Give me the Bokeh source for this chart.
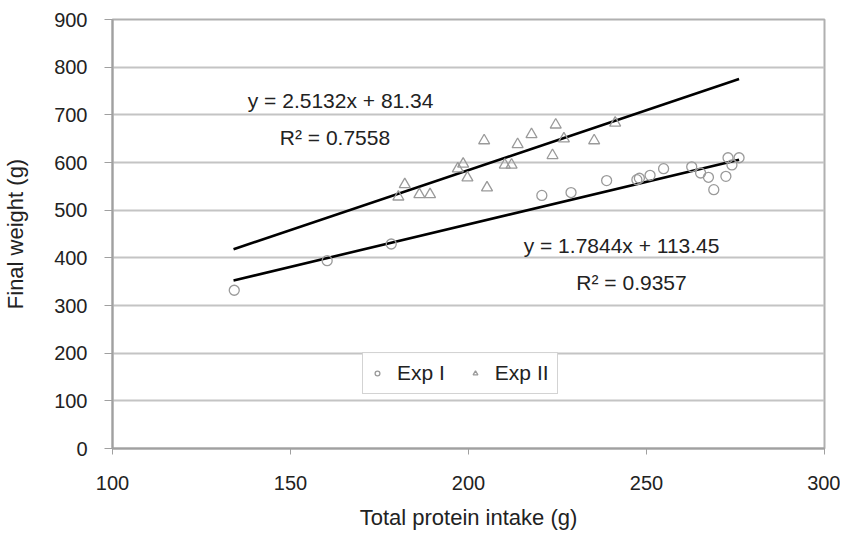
from bokeh.plotting import figure
from bokeh.models import Range1d, FixedTicker, Legend, LegendItem
from bokeh.core.properties import value
from bokeh.embed import file_html
from bokeh.resources import INLINE

# ---- data ----
exp1_x = [134.2, 160.3, 178.3, 220.6, 228.8, 238.8, 247.3, 248.0, 251.0, 254.8,
          262.7, 265.2, 267.4, 268.9, 272.3, 272.9, 274.0, 276.0]
exp1_y = [332, 394, 429, 531, 537, 562, 564, 567, 573, 587,
          591, 578, 569, 543, 571, 610, 595, 610]

exp2_x = [180.3, 182.1, 186.2, 189.2, 197.0, 198.5, 199.7, 204.4, 205.2, 210.2,
          212.1, 213.8, 217.7, 223.6, 224.5, 226.8, 235.3, 241.2]
exp2_y = [528, 554, 533, 533, 587, 597, 568, 646, 547, 595,
          595, 638, 659, 615, 679, 650, 646, 683]

fit1_slope, fit1_icept, fit1_r2 = 1.7844, 113.45, 0.9357
fit2_slope, fit2_icept, fit2_r2 = 2.5132, 81.34, 0.7558
fit_x = [134, 276]

x_ticks = [100, 150, 200, 250, 300]
y_ticks = [0, 100, 200, 300, 400, 500, 600, 700, 800, 900]

series_names = ["Exp I", "Exp II"]
x_title = "Total protein intake (g)"
y_title = "Final weight (g)"

FONT = "Liberation Sans"
TXT = "#222222"
GRID = "#c4c4c4"
MARK = "#9a9a9a"

p = figure(width=840, height=536, output_backend="svg", toolbar_location=None,
           x_range=Range1d(100, 300), y_range=Range1d(0, 900),
           min_border_left=109, min_border_right=16, min_border_top=19,
           min_border_bottom=88)
p.background_fill_color = "white"
p.border_fill_color = "white"
p.outline_line_color = "#b0b0b0"
p.outline_line_width = 2

# grid
p.xgrid.grid_line_color = None
p.ygrid.grid_line_color = GRID
p.ygrid.grid_line_width = 2
p.ygrid.ticker = FixedTicker(ticks=y_ticks)

# axes
p.xaxis.ticker = FixedTicker(ticks=x_ticks)
p.yaxis.ticker = FixedTicker(ticks=y_ticks)
for ax in (p.xaxis[0], p.yaxis[0]):
    ax.axis_line_color = "#a0a0a0"
    ax.axis_line_width = 2
    ax.major_tick_line_color = "#a0a0a0"
    ax.major_tick_line_width = 1
    ax.minor_tick_line_color = None
    ax.major_tick_in = 0
    ax.major_label_text_font = FONT
    ax.major_label_text_font_size = "20px"
    ax.major_label_text_color = TXT
    ax.axis_label_text_font = FONT
    ax.axis_label_text_font_size = "22px"
    ax.axis_label_text_font_style = "normal"
    ax.axis_label_text_color = TXT

p.xaxis.major_tick_out = 6
p.xaxis.major_label_standoff = 21
p.xaxis.axis_label = x_title
p.xaxis.axis_label_standoff = 12

p.yaxis.major_tick_out = 8
p.yaxis.major_label_standoff = 17
p.yaxis.axis_label = y_title
p.yaxis.axis_label_standoff = 23

# fit lines
fit1_y = [fit1_slope * x + fit1_icept for x in fit_x]
fit2_y = [fit2_slope * x + fit2_icept for x in fit_x]
p.line(fit_x, fit2_y, line_color="black", line_width=2.6)
p.line(fit_x, fit1_y, line_color="black", line_width=2.6)

# scatter
r1 = p.scatter(exp1_x, exp1_y, marker="circle", size=10, fill_color=None,
               line_color=MARK, line_width=1.3)
r2 = p.scatter(exp2_x, exp2_y, marker="triangle", size=11, fill_color=None,
               line_color=MARK, line_width=1.3)

# equation annotations
p.text(x=[138.0], y=[730], text=[f"y = {fit2_slope}x + {fit2_icept}"],
       text_font=value(FONT), text_font_size="21px", text_color=TXT,
       text_align="left", text_baseline="middle")
p.text(x=[147.0], y=[652], text=[f"R\u00b2 = {fit2_r2}"],
       text_font=value(FONT), text_font_size="21px", text_color=TXT,
       text_align="left", text_baseline="middle")
p.text(x=[215.5], y=[426], text=[f"y = {fit1_slope}x + {fit1_icept}"],
       text_font=value(FONT), text_font_size="21px", text_color=TXT,
       text_align="left", text_baseline="middle")
p.text(x=[230.3], y=[348], text=[f"R\u00b2 = {fit1_r2}"],
       text_font=value(FONT), text_font_size="21px", text_color=TXT,
       text_align="left", text_baseline="middle")

legend = Legend(items=[LegendItem(label=series_names[0], renderers=[r1]),
                       LegendItem(label=series_names[1], renderers=[r2])],
                location=(250, 54), orientation="horizontal")
legend.label_text_font = FONT
legend.label_text_font_size = "21px"
legend.label_text_color = TXT
legend.border_line_color = "#a8a8a8"
legend.border_line_width = 1.5
legend.background_fill_color = "white"
legend.padding = 8
legend.spacing = 24
legend.margin = 0
legend.glyph_width = 12
legend.glyph_height = 16
legend.label_height = 16
legend.label_standoff = 14
p.add_layout(legend, "center")

open("out.html", "w").write(file_html(p, INLINE))
